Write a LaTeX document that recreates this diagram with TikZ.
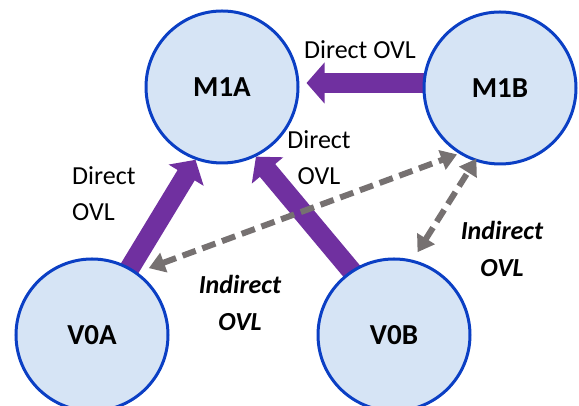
\documentclass[tikz,border=0pt]{standalone}
\usepackage{fontspec}
\setmainfont{Carlito}
\usetikzlibrary{arrows.meta,calc}
\pgfdeclarelayer{bg}
\pgfsetlayers{bg,main}
\definecolor{nodefill}{HTML}{D6E4F5}
\definecolor{nodeline}{HTML}{0B3FC4}
\definecolor{ovlpurple}{HTML}{7030A0}
\definecolor{ovlgray}{HTML}{767171}
\tikzset{
  vertex/.style={circle, draw=nodeline, fill=nodefill, line width=3pt,
    minimum size=152pt, inner sep=0pt,
    font=\fontsize{29}{34}\selectfont\bfseries},
  direct/.style={draw=ovlpurple, line width=20pt,
    -{Triangle[width=40pt,length=18pt]}},
  indirect/.style={draw=ovlgray, line width=6pt, dash pattern=on 14pt off 7pt,
    {Triangle[width=20pt,length=16pt]}-{Triangle[width=20pt,length=16pt]}},
  plainlbl/.style={inner sep=0pt, font=\fontsize{26}{36}\selectfont},
  boldlbl/.style={inner sep=0pt, align=center,
    font=\fontsize{26}{37}\selectfont\bfseries\itshape}
}
\begin{document}
\begin{tikzpicture}[x=1pt,y=1pt]
\useasboundingbox (0,0) rectangle (579,406);

% the four vertices
\node[vertex] (M1A) at (222,319) {M1A};
\node[vertex] (M1B) at (500,318) {M1B};
\node[vertex] (V0A) at (92,71)  {V0A};
\node[vertex] (V0B) at (394,71) {V0B};

% direct overlaps, drawn beneath the circles
\begin{pgfonlayer}{bg}
  \draw[direct] ([yshift=5pt]M1B.center) -- ([xshift=7pt,yshift=4pt]M1A.east);
  \draw[direct] ($(V0A.center)!0.8!(V0A.61)$) -- (M1A.250);
  \draw[direct] ($(V0B.center)!0.8!(V0B.122)$) -- (M1A.296);
\end{pgfonlayer}

% indirect overlaps
\draw[indirect, shorten <=12pt, shorten >=2pt] (V0A.54) -- (M1B.238);
\draw[indirect, shorten <=9pt, shorten >=-3pt] (V0B.76) -- (M1B.251);

% labels
\node[plainlbl] (l1) at (360,356) {Direct OVL};
\node[plainlbl, align=left, anchor=west] (l2) at (72,212) {Direct\\OVL};
\node[plainlbl, align=center] (l3) at (319,248) {Direct\\OVL};
\node[boldlbl] (l4) at (502,157) {Indirect\\OVL};
\node[boldlbl] (l5) at (240,103) {Indirect\\OVL};
\end{tikzpicture}
\end{document}
